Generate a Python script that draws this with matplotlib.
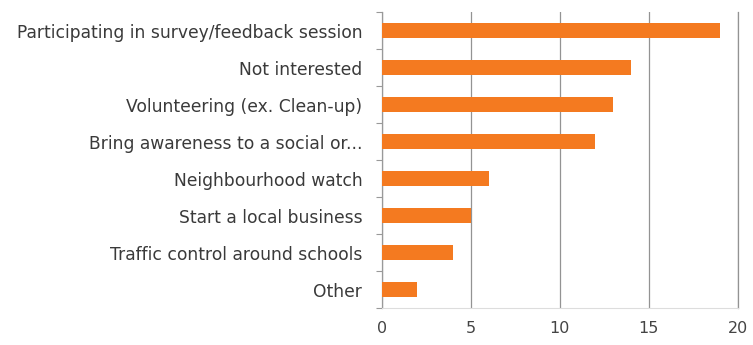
import numpy as np
import matplotlib.pyplot as plt

# survey responses, top to bottom
categories = [
    "Participating in survey/feedback session",
    "Not interested",
    "Volunteering (ex. Clean-up)",
    "Bring awareness to a social or...",
    "Neighbourhood watch",
    "Start a local business",
    "Traffic control around schools",
    "Other",
]
counts = [19, 14, 13, 12, 6, 5, 4, 2]
xticks = [0, 5, 10, 15, 20]

plt.rcParams['font.family'] = ['DejaVu Sans']

fig = plt.figure(figsize=(7.53, 3.45), dpi=100)
ax = fig.add_axes([0.507, 0.107, 0.473, 0.858])

y = np.arange(len(categories))[::-1]
ax.barh(y, counts, height=0.4, color='#F47A20', zorder=3)

ax.set_xlim(0, 20)
ax.set_ylim(-0.5, len(categories) - 0.5)
ax.set_xticks(xticks)
ax.set_xticklabels([str(t) for t in xticks])
ax.set_yticks(y)
ax.set_yticklabels(categories)

# category boundary ticks on the left axis
ax.set_yticks(np.arange(-0.5, len(categories)), minor=True)
ax.tick_params(axis='y', which='major', length=0, pad=14, labelsize=12.3, labelcolor='#3a3a3a')
ax.tick_params(axis='y', which='minor', length=4, color='#999999', width=0.8)
ax.tick_params(axis='x', length=0, pad=9, labelsize=11.5, labelcolor='#444444')

ax.grid(axis='x', color='#939393', linewidth=0.9, zorder=0)
ax.spines['top'].set_visible(False)
ax.spines['bottom'].set_color('#dddddd')
ax.spines['right'].set_color('#939393')
ax.spines['right'].set_linewidth(0.9)
ax.spines['left'].set_color('#999999')
ax.spines['left'].set_linewidth(0.9)

fig.savefig('out.png', dpi=100)
